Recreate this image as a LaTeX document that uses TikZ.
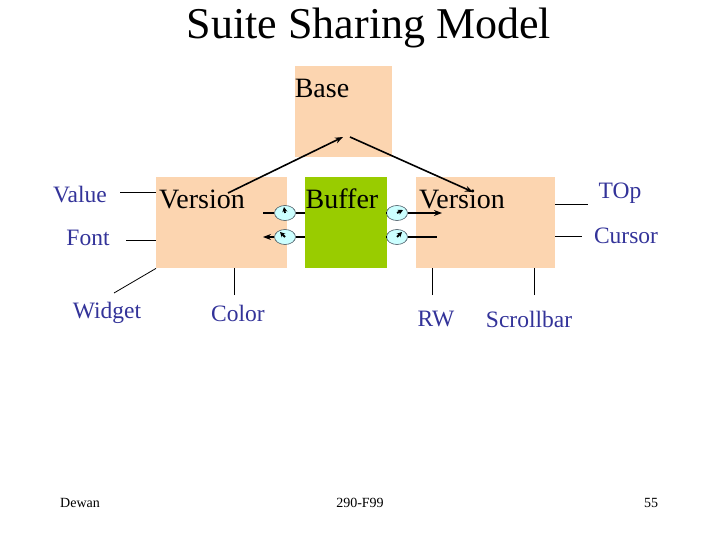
\documentclass[tikz,border=0pt]{standalone}
\usepackage{fontspec}
\setmainfont{Liberation Serif}
\usetikzlibrary{positioning, arrows.meta, shapes.geometric}

\definecolor{peach}{RGB}{252,213,176}
\definecolor{leaf}{RGB}{153,204,0}
\definecolor{navy}{RGB}{51,51,153}
\definecolor{dial}{RGB}{204,255,255}

\begin{document}
\begin{tikzpicture}[x=1pt, y=-1pt,
    arrow/.style={-{Stealth[length=8pt, width=6pt]}, line width=1.6pt},
    box/.style={anchor=north west, inner sep=0pt, minimum height=91pt},
    boxtext/.style={font=\fontsize{28}{30}\selectfont},
    tag/.style={text=navy, font=\fontsize{23.5}{26}\selectfont},
    wire/.style={line width=0.8pt},
    gauge/.style={ellipse, draw=black!70!cyan, fill=dial, line width=0.6pt,
                  minimum width=21pt, minimum height=15pt, inner sep=0pt},
    needle/.style={-{Stealth[length=5pt, width=5pt]}, line width=1.8pt},
    foot/.style={font=\fontsize{14}{16}\selectfont}]

    \useasboundingbox (0,0) rectangle (720,540);

    % Title
    \node[font=\fontsize{44}{48}\selectfont] (title) at (369,28) {Suite Sharing Model};

    % Boxes
    \node[box, fill=peach, minimum width=97pt] (base) at (295,66) {};
    \node[box, fill=peach, minimum width=131pt] (lver) at (156,177) {};
    \node[box, fill=leaf, minimum width=82pt] (buf) at (305,177) {};
    \node[box, fill=peach, minimum width=139pt] (rver) at (416,177) {};

    \node[boxtext] (basetxt) at (322,88) {Base};
    \node[boxtext] (ltxt) at (202,199) {Version};
    \node[boxtext] (buftxt) at (342,199) {Buffer};
    \node[boxtext] (rtxt) at (462,199) {Version};

    % Version <-> Base
    \coordinate (lfrom) at (228,193);
    \coordinate (bto) at (343,137);
    \coordinate (bfrom) at (350,137);
    \coordinate (rto) at (473,192);
    \draw[arrow] (lfrom) -- (bto);
    \draw[arrow] (bfrom) -- (rto);

    % Gauges between buffer and versions
    \node[gauge] (g1) at (285,213) {};
    \node[gauge] (g2) at (285,237) {};
    \node[gauge] (g3) at (397,213) {};
    \node[gauge] (g4) at (397,237) {};

    \coordinate (w1) at (263,213);
    \coordinate (w2) at (263,237);
    \coordinate (w3) at (442,213);
    \coordinate (w4) at (437,237);

    \draw[line width=1.6pt] (buf.west |- g1) -- (g1.east) (g1.west) -- (w1);
    \draw[line width=1.6pt] (buf.west |- g2) -- (g2.east);
    \draw[arrow] (g2.west) -- (w2);
    \draw[line width=1.6pt] (buf.east |- g3) -- (g3.west);
    \draw[arrow] (g3.east) -- (w3);
    \draw[line width=1.6pt] (buf.east |- g4) -- (g4.west) (g4.east) -- (w4);

    \draw[needle] (g1.center) -- +(-1,-6);
    \draw[needle] (g2.center) -- +(-5,-5);
    \draw[needle] (g3.center) -- +(6,-3);
    \draw[needle] (g4.center) -- +(5,-5);

    % Labels on the left version
    \node[tag] (value) at (80,195) {Value};
    \node[tag] (font) at (88,238) {Font};
    \node[tag] (widget) at (107,313) {Widget};
    \node[tag] (color) at (238,313) {Color};

    \coordinate (v1) at (120,192);
    \coordinate (f1) at (126,240);
    \coordinate (wd1) at (114,293);
    \coordinate (c1) at (234,295);
    \draw[wire] (v1) -- (lver.west |- v1);
    \draw[wire] (f1) -- (lver.west |- f1);
    \draw[wire] (wd1) -- (lver.south west);
    \draw[wire] (c1) -- (c1 |- lver.south);

    % Labels on the right version
    \node[tag] (top) at (620,193) {TOp};
    \node[tag] (cursor) at (626,236) {Cursor};
    \node[tag] (rw) at (436,319) {RW};
    \node[tag] (scroll) at (529,319) {Scrollbar};

    \coordinate (t1) at (588,204);
    \coordinate (cu1) at (582,236);
    \coordinate (rw1) at (432,295);
    \coordinate (s1) at (534,295);
    \draw[wire] (rver.east |- t1) -- (t1);
    \draw[wire] (rver.east |- cu1) -- (cu1);
    \draw[wire] (rw1) -- (rw1 |- rver.south);
    \draw[wire] (s1) -- (s1 |- rver.south);

    % Footer
    \node[foot] (author) at (80,503) {Dewan};
    \node[foot] (course) at (360,503) {290-F99};
    \node[foot] (page) at (651,503) {55};

\end{tikzpicture}
\end{document}
